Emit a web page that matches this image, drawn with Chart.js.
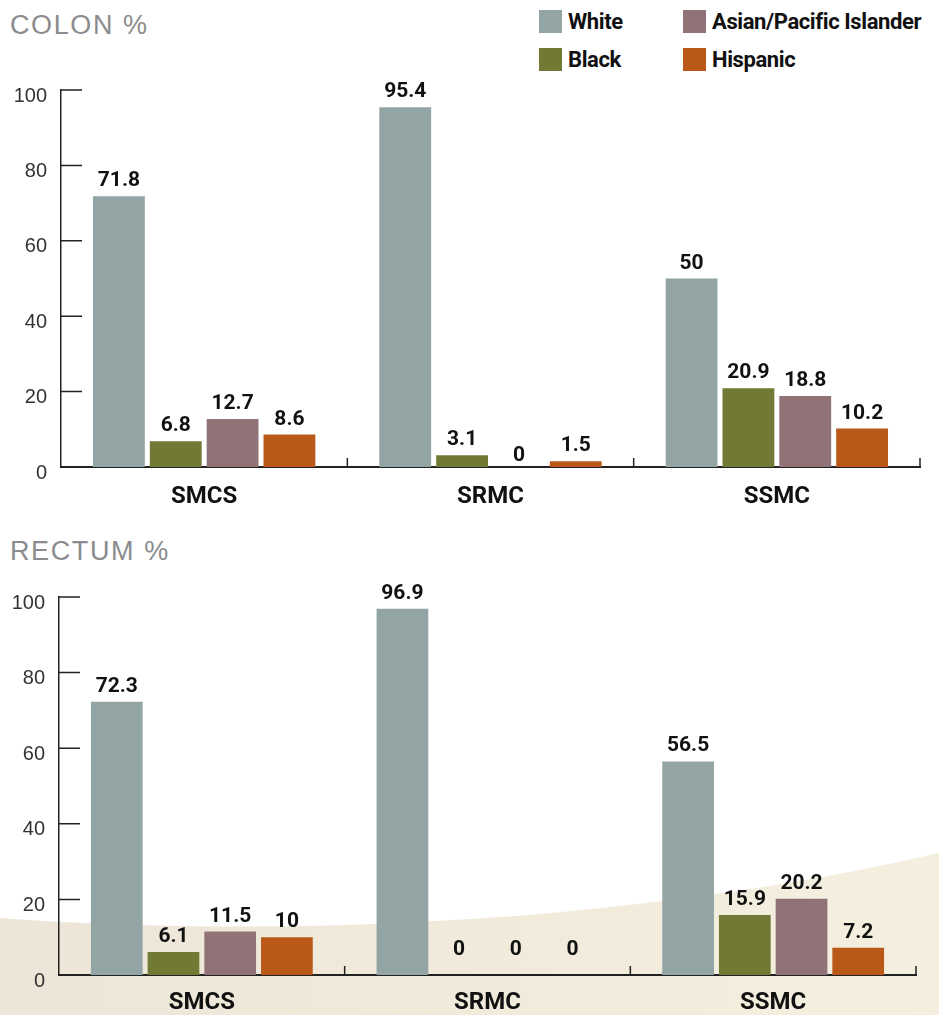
<!DOCTYPE html>
<html>
<head>
<meta charset="utf-8">
<script src="https://cdn.jsdelivr.net/npm/chart.js@4"></script>
<style>
  body { margin: 0; background: #fff; }
  #page { position: relative; width: 939px; height: 1015px; overflow: hidden; }
  .title { position: absolute; left: 10px; font: 27px "Liberation Sans", Arial, sans-serif; line-height: 26px;
           color: #8c8c8e; letter-spacing: 1.6px; }
  .chartbox { position: absolute; left: 0; }
  #legend { position: absolute; left: 539px; top: 10px; display: grid;
            grid-template-columns: 144px auto; row-gap: 15px; }
  .item { display: flex; align-items: center; height: 23px;
          font: bold 22px Roboto, sans-serif; color: #111; letter-spacing: -0.4px; }
  .swatch { width: 23px; height: 23px; margin-right: 6px; }
</style>
</head>
<body>
<div id="page">
  <div class="title" style="top:12px">COLON %</div>
  <div class="title" style="top:538px">RECTUM %</div>
  <div id="legend"></div>
  <div class="chartbox" style="top:0"><canvas id="colon" width="939" height="515"></canvas></div>
  <div class="chartbox" style="top:520px"><canvas id="rectum" width="939" height="495"></canvas></div>
</div>
<script>
const categories = ["SMCS", "SRMC", "SSMC"];
const seriesNames = ["White", "Black", "Asian/Pacific Islander", "Hispanic"];
const seriesColors = ["#92a5a4", "#727935", "#917276", "#b95818"];

const colonWhite = [71.8, 95.4, 50];
const colonBlack = [6.8, 3.1, 20.9];
const colonAsian = [12.7, 0, 18.8];
const colonHispanic = [8.6, 1.5, 10.2];

const rectumWhite = [72.3, 96.9, 56.5];
const rectumBlack = [6.1, 0, 15.9];
const rectumAsian = [11.5, 0, 20.2];
const rectumHispanic = [10, 0, 7.2];

const yTicks = [0, 20, 40, 60, 80, 100];

const boldFont = 'Roboto, sans-serif';
const axisColor = "#222";

// legend: two columns, White/Asian on top, Black/Hispanic below
const legendOrder = [0, 2, 1, 3];
document.getElementById("legend").innerHTML = legendOrder.map(i =>
  `<div class="item"><span class="swatch" style="background:${seriesColors[i]}"></span>${seriesNames[i]}</div>`
).join("");

// value labels above each bar (zero bars get their own gap)
const valueLabels = {
  id: "valueLabels",
  afterDatasetsDraw(chart, args, opts) {
    const ctx = chart.ctx;
    ctx.save();
    ctx.font = "bold 21px " + boldFont;
    ctx.fillStyle = "#111";
    ctx.textAlign = "center";
    ctx.textBaseline = "alphabetic";
    chart.data.datasets.forEach((ds, di) => {
      chart.getDatasetMeta(di).data.forEach((bar, i) => {
        const gap = ds.data[i] === 0 ? opts.zeroGap : 10;
        ctx.fillText(String(ds.data[i]), bar.x, bar.y - gap);
      });
    });
    ctx.restore();
  }
};

// short ticks pointing into the plot, plus upward marks between categories
const axisMarks = {
  id: "axisMarks",
  afterDraw(chart) {
    const { ctx, chartArea } = chart;
    const x = chart.scales.x, y = chart.scales.y;
    ctx.save();
    ctx.strokeStyle = axisColor;
    ctx.lineWidth = 1.5;
    ctx.beginPath();
    y.ticks.forEach(t => {
      if (t.value === 0) return;
      const py = y.getPixelForValue(t.value);
      ctx.moveTo(chartArea.left, py);
      ctx.lineTo(chartArea.left + 21, py);
    });
    const marks = [];
    for (let i = 0; i < categories.length - 1; i++) {
      marks.push((x.getPixelForValue(i) + x.getPixelForValue(i + 1)) / 2);
    }
    marks.push(chartArea.right);
    marks.forEach(px => {
      ctx.moveTo(px, chartArea.bottom);
      ctx.lineTo(px, chartArea.bottom - 9);
    });
    ctx.stroke();
    ctx.restore();
  }
};

// pale sweep behind the lower chart
const backdrop = {
  id: "backdrop",
  beforeDraw(chart, args, opts) {
    if (!opts.show) return;
    const ctx = chart.ctx;
    const off = 520;
    ctx.save();
    const g = ctx.createLinearGradient(0, 0, chart.width, 0);
    g.addColorStop(0, "#ede6d8");
    g.addColorStop(1, "#f5efdf");
    ctx.fillStyle = g;
    ctx.beginPath();
    ctx.moveTo(0, 918 - off);
    ctx.bezierCurveTo(300, 940 - off, 650, 920 - off, 939, 853 - off);
    ctx.lineTo(939, chart.height);
    ctx.lineTo(0, chart.height);
    ctx.closePath();
    ctx.fill();
    ctx.restore();
  }
};

function makeChart(id, values, box) {
  return new Chart(document.getElementById(id), {
    type: "bar",
    data: {
      labels: categories,
      datasets: values.map((data, i) => ({
        label: seriesNames[i],
        data: data,
        backgroundColor: seriesColors[i],
        borderWidth: 0,
        barPercentage: 0.912,
        categoryPercentage: 0.794
      }))
    },
    options: {
      responsive: false,
      animation: false,
      layout: { padding: { top: box.top, right: box.right, left: 0, bottom: 0 } },
      plugins: {
        legend: { display: false },
        tooltip: { enabled: false },
        backdrop: { show: box.backdrop },
        valueLabels: { zeroGap: box.zeroGap }
      },
      scales: {
        x: {
          afterFit: s => { s.height = box.xHeight; },
          grid: { display: false, drawTicks: false },
          border: { display: true, color: axisColor, width: 2 },
          ticks: { padding: box.xPad, color: "#111", font: { family: boldFont, size: 24, weight: "bold" } }
        },
        y: {
          min: 0,
          max: 100,
          afterFit: s => { s.width = box.left; },
          afterBuildTicks: s => { s.ticks = yTicks.map(v => ({ value: v })); },
          grid: { display: false, drawTicks: false },
          border: { display: true, color: axisColor, width: 1.5 },
          ticks: {
            padding: 14,
            labelOffset: 6,
            color: "#333",
            font: { family: '"Liberation Sans", Arial, sans-serif', size: 20 }
          }
        }
      }
    },
    plugins: [backdrop, valueLabels, axisMarks]
  });
}

makeChart("colon", [colonWhite, colonBlack, colonAsian, colonHispanic],
  { top: 90, right: 19, left: 61, xHeight: 48, xPad: 16, zeroGap: 6, backdrop: false });
makeChart("rectum", [rectumWhite, rectumBlack, rectumAsian, rectumHispanic],
  { top: 77, right: 23, left: 59, xHeight: 40, xPad: 14, zeroGap: 20, backdrop: true });
</script>
</body>
</html>
